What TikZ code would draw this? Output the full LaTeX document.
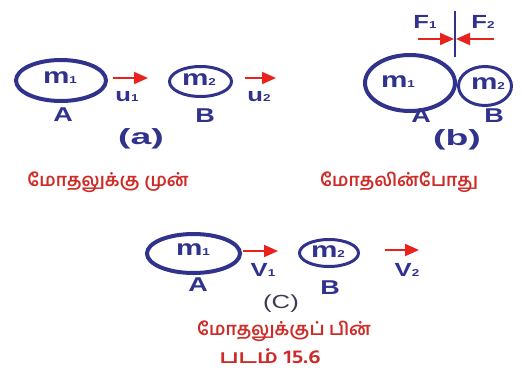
\documentclass[tikz,border=0pt]{standalone}
\usepackage{fontspec}
\setmainfont{Liberation Sans}
\newfontfamily\lblfont{Liberation Sans}[FakeStretch=1.35]
\newfontfamily\partfont{Liberation Sans}[FakeStretch=1.7]
\newfontfamily\tamilfont[Script=Tamil]{Hind Madurai}
\newfontfamily\tamilwide[Script=Tamil,FakeStretch=1.2]{Hind Madurai}
\usetikzlibrary{shapes.geometric,arrows.meta}
\definecolor{navy}{RGB}{48,50,140}
\definecolor{arrred}{RGB}{232,35,30}
\definecolor{tamred}{RGB}{205,45,40}
\definecolor{cgray}{RGB}{60,60,80}
\tikzset{
  body/.style={draw=navy, ellipse, inner sep=0pt},
  bigbody/.style={body, line width=4pt},
  smallbody/.style={body, line width=3pt},
  mass/.style={text=navy, font=\lblfont\fontsize{22}{24}\selectfont\bfseries, inner sep=0pt},
  lbl/.style={text=navy, font=\lblfont\fontsize{20}{22}\selectfont\bfseries, inner sep=0pt},
  vlbl/.style={text=navy, font=\lblfont\fontsize{19}{21}\selectfont\bfseries, inner sep=0pt},
  partlbl/.style={text=navy, font=\partfont\fontsize{22}{24}\selectfont\bfseries, inner sep=0pt},
  tam/.style={text=tamred, font=\tamilfont\fontsize{18}{20}\selectfont\bfseries, inner sep=0pt},
  vel/.style={draw=arrred, line width=2pt, -{Triangle[length=14pt,width=12pt]}},
}
\newcommand{\sub}[2]{#1{\fontsize{10}{10}\selectfont #2}}
\begin{document}
\begin{tikzpicture}[x=1pt,y=-1pt]
\useasboundingbox (0,0) rectangle (522,370);
% (a)
\node[bigbody, minimum width=90pt, minimum height=41pt] (aA) at (61,80.5) {};
\node[smallbody, minimum width=62pt, minimum height=30pt] (aB) at (200.5,81.5) {};
\node[mass] (am1) at (60,78) {\sub{m}{1}};
\node[mass] (am2) at (199,80) {\sub{m}{2}};
\node[lbl] (aAl) at (63,115) {A};
\node[lbl] (aBl) at (205,116) {B};
\coordinate (au1s) at (113,78); \coordinate (au1e) at (148,78);
\coordinate (au2s) at (245,78); \coordinate (au2e) at (276,78);
\draw[vel] (au1s) -- (au1e);
\draw[vel] (au2s) -- (au2e);
\node[vlbl] (au1) at (127,97) {\sub{u}{1}};
\node[vlbl] (au2) at (259,97) {\sub{u}{2}};
\node[partlbl] (acap) at (141,139) {(a)};
\node[tam] (atam) at (108,182) {மோதலுக்கு முன்};
% (b)
\node[bigbody, minimum width=90pt, minimum height=56pt] (bA) at (410,83) {};
\node[smallbody, minimum width=53pt, minimum height=39pt] (bB) at (485,86) {};
\node[mass] (bm1) at (398,82) {\sub{m}{1}};
\node[mass] (bm2) at (488,84) {\sub{m}{2}};
\node[lbl] (bAl) at (421,116) {A};
\node[lbl] (bBl) at (494,116) {B};
\coordinate (bt) at (455,11); \coordinate (bb) at (455,57);
\draw[navy, line width=2pt] (bt) -- (bb);
\coordinate (bf1s) at (418,39); \coordinate (bf1e) at (454,39);
\coordinate (bf2s) at (494,39); \coordinate (bf2e) at (456,39);
\draw[vel] (bf1s) -- (bf1e);
\draw[vel] (bf2s) -- (bf2e);
\node[vlbl] (bF1) at (425,22) {\sub{F}{1}};
\node[vlbl] (bF2) at (483,22) {\sub{F}{2}};
\node[partlbl] (bcap) at (457,140) {(b)};
\node[tam] (btam) at (399,182) {மோதலின்போது};
% (c)
\node[bigbody, minimum width=93pt, minimum height=39pt] (cA) at (193.5,253.5) {};
\node[smallbody, minimum width=59pt, minimum height=27pt] (cB) at (329,253) {};
\node[mass] (cm1) at (193,250) {\sub{m}{1}};
\node[mass] (cm2) at (328,252) {\sub{m}{2}};
\node[lbl] (cAl) at (198,285) {A};
\node[lbl] (cBl) at (330,288) {B};
\coordinate (cv1s) at (243,251); \coordinate (cv1e) at (278,251);
\coordinate (cv2s) at (385,250); \coordinate (cv2e) at (419,250);
\draw[vel] (cv1s) -- (cv1e);
\draw[vel] (cv2s) -- (cv2e);
\node[vlbl] (cv1) at (263,270) {\sub{V}{1}};
\node[vlbl] (cv2) at (407,270) {\sub{V}{2}};
\node[text=cgray, font=\lblfont\fontsize{19}{21}\selectfont, inner sep=0pt] (ccap) at (281,304) {(C)};
\node[tam] (ctam) at (284,331) {மோதலுக்குப் பின்};
\node[tam, font=\tamilwide\fontsize{19}{21}\selectfont\bfseries] (fig) at (270,356) {படம் 15.6};
\end{tikzpicture}
\end{document}
